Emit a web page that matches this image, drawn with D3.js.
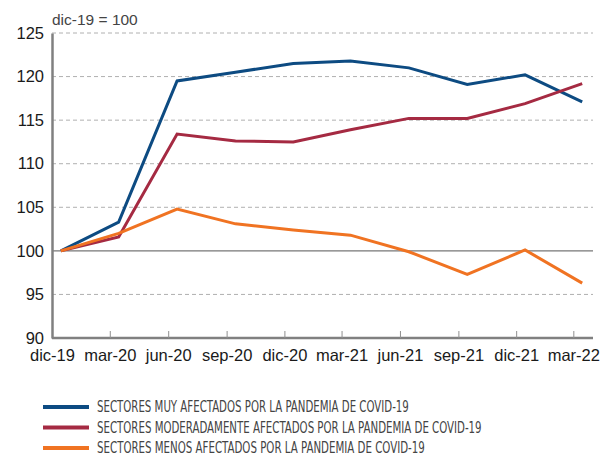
<!DOCTYPE html>
<html>
<head>
<meta charset="utf-8">
<script src="https://cdn.jsdelivr.net/npm/d3@7"></script>
<style>
  body { margin: 0; background: #fff; }
  svg { display: block; font-family: "Liberation Sans", Arial, sans-serif; }
</style>
</head>
<body>
<svg id="chart" width="600" height="457"></svg>
<script>
// quarters, data sits mid-month, ticks on month start
var periods = ["dic-19", "mar-20", "jun-20", "sep-20", "dic-20", "mar-21", "jun-21", "sep-21", "dic-21", "mar-22"];
var periodDates = ["2019-12-15", "2020-03-15", "2020-06-15", "2020-09-15", "2020-12-15",
                   "2021-03-15", "2021-06-15", "2021-09-15", "2021-12-15", "2022-03-15"];
var tickDates = ["2019-12-01", "2020-03-01", "2020-06-01", "2020-09-01", "2020-12-01",
                 "2021-03-01", "2021-06-01", "2021-09-01", "2021-12-01", "2022-03-01"];

var muyAfectados      = [100, 103.3, 119.5, 120.5, 121.5, 121.8, 121.0, 119.1, 120.2, 117.1];
var moderadamente     = [100, 101.6, 113.4, 112.6, 112.5, 113.9, 115.2, 115.2, 116.9, 119.2];
var menosAfectados    = [100, 102.0, 104.8, 103.1, 102.4, 101.8, 99.9, 97.3, 100.1, 96.3];

var yTicks = [90, 95, 100, 105, 110, 115, 120, 125];

var seriesNames = [
  "SECTORES MUY AFECTADOS POR LA PANDEMIA DE COVID-19",
  "SECTORES MODERADAMENTE AFECTADOS POR LA PANDEMIA DE COVID-19",
  "SECTORES MENOS AFECTADOS POR LA PANDEMIA DE COVID-19"
];
var legendWidths = [312, 385, 328];
var seriesColors = ["#0d4b82", "#a52a42", "#f07322"];
var seriesValues = [muyAfectados, moderadamente, menosAfectados];

var parse = d3.timeParse("%Y-%m-%d");
var svg = d3.select("#chart");

var margin = {left: 52, right: 7, top: 33, bottom: 119};
var W = 600, H = 457;

var x = d3.scaleTime()
    .domain([parse("2019-12-01"), parse("2022-04-01")])
    .range([margin.left, W - margin.right]);
var y = d3.scaleLinear()
    .domain([90, 125])
    .range([H - margin.bottom, margin.top]);

// grid
var grid = svg.append("g").attr("class", "grid");
grid.selectAll("line")
    .data(yTicks.filter(function (d) { return d > 90; }))
    .enter().append("line")
    .attr("x1", margin.left)
    .attr("x2", W - margin.right)
    .attr("y1", function (d) { return y(d); })
    .attr("y2", function (d) { return y(d); })
    .attr("stroke", function (d) { return d == 100 ? "#777" : "#b0b0b0"; })
    .attr("stroke-width", function (d) { return d == 100 ? 1.2 : 1; })
    .attr("stroke-dasharray", function (d) { return d == 100 ? null : "4,3"; });

// y axis
var yAxis = svg.append("g")
    .attr("transform", "translate(" + margin.left + ",0)")
    .call(d3.axisLeft(y).tickValues(yTicks).tickSize(0).tickPadding(8));
yAxis.select(".domain").attr("stroke", "#808080").attr("stroke-width", 2.5);
yAxis.selectAll("text")
    .attr("font-size", 16.5)
    .attr("fill", "#1a1a1a")
    .attr("font-family", "Liberation Sans, Arial, sans-serif");

// x axis
var xAxis = svg.append("g")
    .attr("transform", "translate(0," + (H - margin.bottom) + ")")
    .call(d3.axisTop(x)
        .tickValues(tickDates.map(parse))
        .tickSize(7)
        .tickFormat(function (d, i) { return periods[i]; }));
xAxis.select(".domain").remove();
xAxis.insert("line", ":first-child")
    .attr("x1", margin.left).attr("x2", W - margin.right)
    .attr("stroke", "#808080").attr("stroke-width", 2.5);
xAxis.selectAll(".tick line").attr("stroke", "#909090").attr("stroke-width", 1);
xAxis.selectAll(".tick").filter(function (d, i) { return i == 0; }).select("line").remove();
xAxis.selectAll("text")
    .attr("y", 23)
    .attr("font-size", 16.5)
    .attr("fill", "#1a1a1a");

// base label
svg.append("text")
    .attr("x", margin.left)
    .attr("y", 25)
    .attr("font-size", 15.5)
    .attr("fill", "#444")
    .text("dic-19 = 100");

// lines
var line = d3.line()
    .x(function (d, i) { return x(parse(periodDates[i])); })
    .y(function (d) { return y(d); });

svg.append("g").selectAll("path")
    .data(seriesValues)
    .enter().append("path")
    .attr("d", line)
    .attr("fill", "none")
    .attr("stroke", function (d, i) { return seriesColors[i]; })
    .attr("stroke-width", 3)
    .attr("stroke-linejoin", "miter");

// legend
var legend = svg.append("g").attr("transform", "translate(43,407)");
var items = legend.selectAll("g")
    .data(seriesNames)
    .enter().append("g")
    .attr("transform", function (d, i) { return "translate(0," + (i * 20.5) + ")"; });
items.append("line")
    .attr("x1", 0).attr("x2", 46)
    .attr("stroke", function (d, i) { return seriesColors[i]; })
    .attr("stroke-width", 4);
// condensed look: squeeze each label horizontally to the reference width
items.append("text")
    .attr("y", 5.3)
    .attr("font-size", 15.5)
    .attr("fill", "#444")
    .attr("font-family", "DejaVu Sans Condensed, Liberation Sans Narrow, sans-serif")
    .text(function (d) { return d; })
    .attr("transform", function (d, i) {
        var k = legendWidths[i] / this.getComputedTextLength();
        return "translate(54,0) scale(" + k + ",1)";
    });
</script>
</body>
</html>
